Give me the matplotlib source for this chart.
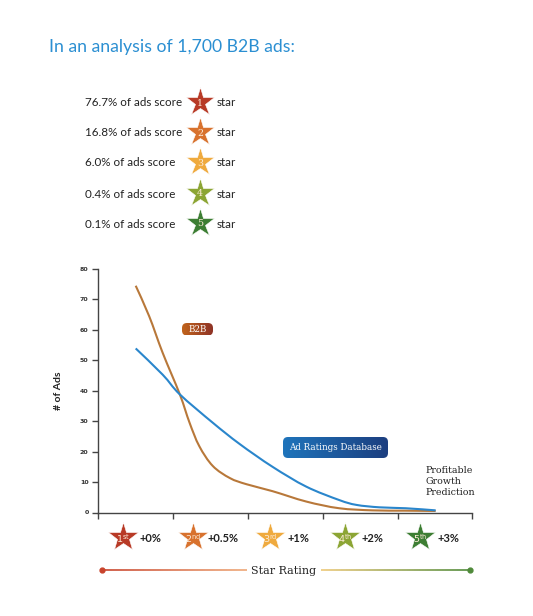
import numpy as np
import matplotlib.pyplot as plt
from matplotlib.path import Path
from matplotlib.patches import PathPatch, FancyBboxPatch
from matplotlib.collections import LineCollection
from matplotlib.colors import LinearSegmentedColormap

# data
star_share = ['76.7%', '16.8%', '6.0%', '0.4%', '0.1%']
star_nums = ['1', '2', '3', '4', '5']
star_ords = ['st', 'nd', 'rd', 'th', 'th']
growth = ['+0%', '+0.5%', '+1%', '+2%', '+3%']
star_cols = ['#b83a26', '#d8722e', '#efaa3e', '#8ca534', '#3d7e33']

x_b2b = [0.5, 0.68, 0.86, 1.09, 1.22, 1.35, 1.53, 1.76, 1.98, 2.33, 2.78, 3.22, 3.67, 4.1, 4.51]
y_b2b = [74.5, 64.5, 52.5, 38.8, 29.5, 21.8, 15.3, 11.3, 9.3, 7.0, 3.6, 1.4, 0.7, 0.6, 0.5]
x_db = [0.5, 0.86, 1.09, 1.53, 1.89, 2.33, 2.78, 3.22, 3.45, 3.76, 4.11, 4.51]
y_db = [53.9, 45.3, 38.8, 29.5, 22.5, 15.0, 8.5, 4.1, 2.5, 1.7, 1.4, 0.7]

W, H = 533, 616
SANS = ['Lato', 'DejaVu Sans']
SERIF = ['DejaVu Serif']


def smooth_path(xs, ys):
    # catmull-rom through the read points, drawn as bezier segments
    pts = np.column_stack([xs, ys])
    verts = [pts[0]]
    codes = [Path.MOVETO]
    n = len(pts)
    for i in range(n - 1):
        p0 = pts[max(i - 1, 0)]
        p1 = pts[i]
        p2 = pts[i + 1]
        p3 = pts[min(i + 2, n - 1)]
        c1 = p1 + (p2 - p0) / 6.0
        c2 = p2 - (p3 - p1) / 6.0
        verts += [c1, c2, p2]
        codes += [Path.CURVE4] * 3
    return Path(verts, codes)


def grad_box(x0, y0, w, h, c1, c2, label):
    # label box in pixel coords of the overlay
    box = FancyBboxPatch((x0, y0), w, h, boxstyle='round,pad=0,rounding_size=5',
                         facecolor='none', edgecolor='none')
    ov.add_patch(box)
    g = np.linspace(0, 1, 64).reshape(1, -1)
    cm = LinearSegmentedColormap.from_list('g', [c1, c2])
    im = ov.imshow(g, extent=(x0, x0 + w, y0 + h, y0), cmap=cm, aspect='auto', zorder=3)
    im.set_clip_path(box)
    ov.text(x0 + w / 2, y0 + h / 2 + 0.5, label, ha='center', va='center', color='white',
            fontsize=6.3, family=SERIF, zorder=4)


fig = plt.figure(figsize=(W / 100, H / 100), dpi=100)
ov = fig.add_axes([0, 0, 1, 1])
ov.axis('off')

ov.text(49, 47, 'In an analysis of 1,700 B2B ads:', color='#2b8fd2', fontsize=12.7,
        family=SANS, va='center', ha='left')

rows_y = [103, 133, 163, 194, 224]
for i in range(5):
    y = rows_y[i]
    ov.text(85, y, star_share[i] + ' of ads score', fontsize=8.4, family=SANS,
            color='#222222', va='center', ha='left')
    ov.plot(200, y - 1, marker='*', markersize=21, color=star_cols[i], mec='white', mew=0.4)
    ov.text(200, y, star_nums[i], fontsize=6.8, family=SERIF, color='#fdebd8',
            ha='center', va='center')
    ov.text(217, y, 'star', fontsize=8.4, family=SANS, color='#222222', va='center')

# chart
ax = fig.add_axes([98.3 / W, 103.5 / H, 374 / W, 243.5 / H])
ax.patch.set_alpha(0)
ax.set_xlim(0, 5)
ax.set_ylim(0, 80)
ax.add_patch(PathPatch(smooth_path(x_b2b, y_b2b), facecolor='none', edgecolor='#b8783a', lw=1.5))
ax.add_patch(PathPatch(smooth_path(x_db, y_db), facecolor='none', edgecolor='#2a86cc', lw=1.5))
for s in ['top', 'right']:
    ax.spines[s].set_visible(False)
for s in ['left', 'bottom']:
    ax.spines[s].set_color('#444444')
    ax.spines[s].set_linewidth(1)
ax.set_xticks(range(6))
ax.set_xticklabels([])
ax.set_yticks(range(0, 81, 10))
ax.tick_params(axis='both', colors='#444444', length=4, width=1, labelsize=4.5, pad=3)
for t in ax.get_yticklabels():
    t.set_fontweight('bold')
    t.set_color('#333333')
ax.set_ylabel('# of Ads', fontsize=7.5, fontweight='bold', family=SANS, labelpad=12, color='#222222')
ax.text(4.37, 10.3, 'Profitable\nGrowth\nPrediction', fontsize=6.8, family=SERIF,
        color='#222222', va='center', ha='left', linespacing=1.3)

grad_box(182, 323, 31, 12.5, '#c0641c', '#8f3326', 'B2B')
grad_box(283, 437, 105, 21, '#1f74bb', '#1c3f80', 'Ad Ratings Database')

# bottom star legend
xs_star = [123, 193, 270, 345, 420]
xs_lab = [139, 208, 288, 362, 437]
for i in range(5):
    ov.plot(xs_star[i], 537, marker='*', markersize=22, color=star_cols[i], mec='white', mew=0.4)
    ov.text(xs_star[i], 538.5, r'$\mathrm{' + star_nums[i] + r'}^{\mathrm{' + star_ords[i] + '}}$',
            fontsize=6.8, color='#fdebd8', ha='center', va='center')
    ov.text(xs_lab[i], 539, growth[i], fontsize=8, fontweight='bold', family=SANS,
            color='#222222', va='center', ha='left')


def grad_line(x0, x1, y, c1, c2):
    cm = LinearSegmentedColormap.from_list('l', [c1, c2])
    xs = np.linspace(x0, x1, 60)
    segs = [[(xs[k], y), (xs[k + 1], y)] for k in range(len(xs) - 1)]
    lc = LineCollection(segs, colors=cm(np.linspace(0, 1, len(segs))), linewidths=1.2)
    ov.add_collection(lc)


grad_line(102, 247, 570, '#c8432c', '#eea878')
grad_line(321, 470, 570, '#ecc878', '#4f8a3a')
ov.plot(102, 570, 'o', color='#c8432c', markersize=3.5)
ov.plot(470, 570, 'o', color='#4f8a3a', markersize=3.5)
ov.text(284, 571, 'Star Rating', fontsize=8, family=SERIF, color='#222222',
        ha='center', va='center')

ov.set_xlim(0, W)
ov.set_ylim(H, 0)

fig.savefig('out.png', dpi=100, facecolor='white')
